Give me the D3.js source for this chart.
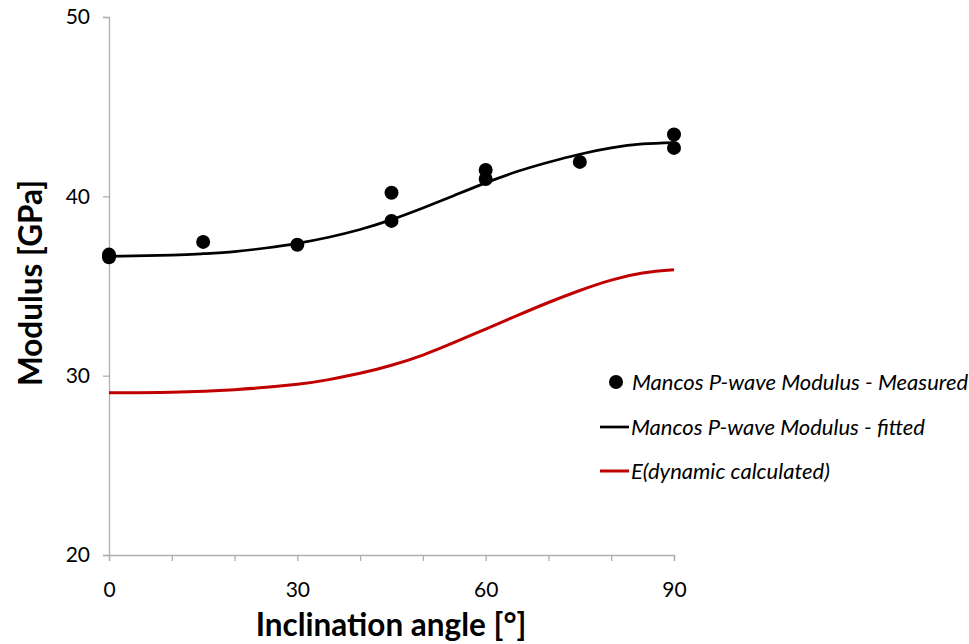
<!DOCTYPE html>
<html>
<head>
<meta charset="utf-8">
<script src="https://cdn.jsdelivr.net/npm/d3@7"></script>
<style>
  html, body { margin: 0; padding: 0; background: #fff; }
  svg { display: block; font-family: Lato, "Open Sans", sans-serif; }
</style>
</head>
<body>
<svg id="chart" width="969" height="644"></svg>
<script>
// Measured P-wave modulus (GPa) against inclination angle (degrees)
const measuredAngle = [0, 0, 15, 30, 45, 45, 60, 60, 75, 90, 90];
const measuredModulus = [36.75, 36.6, 37.46, 37.3, 40.2, 38.63, 41.47, 40.97, 41.92, 43.45, 42.7];

// Fitted P-wave modulus curve
const fittedAngle = [0, 10, 15, 20, 25, 30, 35, 40, 45, 50, 55, 60, 65, 70, 75, 80, 85, 90];
const fittedModulus = [36.65, 36.72, 36.8, 36.92, 37.12, 37.38, 37.72, 38.15, 38.7, 39.35, 40.05, 40.75, 41.38, 41.9, 42.35, 42.7, 42.92, 43.0];

// Calculated dynamic Young's modulus curve
const dynamicAngle = [0, 10, 20, 30, 35, 40, 45, 50, 55, 60, 65, 70, 75, 80, 85, 90];
const dynamicModulus = [29.05, 29.08, 29.22, 29.52, 29.78, 30.13, 30.58, 31.15, 31.85, 32.6, 33.35, 34.08, 34.75, 35.33, 35.72, 35.9];

const xTicks = [0, 10, 20, 30, 40, 50, 60, 70, 80, 90];
const xTickLabels = [0, 30, 60, 90];
const yTicks = [20, 30, 40, 50];

const legendLabels = [
  "Mancos P-wave Modulus - Measured",
  "Mancos P-wave Modulus - fitted",
  "E(dynamic calculated)"
];

const svg = d3.select("#chart");
const axisColor = "#b0b0b0";

const x = d3.scaleLinear().domain([0, 90]).range([109, 674]);
const y = d3.scaleLinear().domain([20, 50]).range([555, 17]);

// Axes
const xAxis = d3.axisBottom(x)
  .tickValues(xTicks)
  .tickSize(6)
  .tickFormat(d => xTickLabels.includes(d) ? d : "");
const gx = svg.append("g").attr("transform", `translate(0,${y(20)})`).call(xAxis);
gx.select(".domain").attr("stroke", axisColor).attr("stroke-width", 1.3);
gx.selectAll(".tick line").attr("stroke", axisColor).attr("stroke-width", 1.3);
gx.selectAll(".tick text")
  .attr("fill", "#000").attr("font-size", 21).attr("dy", 0).attr("y", 42)
  .attr("font-family", "Lato, sans-serif");

const yAxis = d3.axisLeft(y).tickValues(yTicks).tickSize(6).tickPadding(13);
const gy = svg.append("g").attr("transform", `translate(${x(0)},0)`).call(yAxis);
gy.select(".domain").attr("stroke", axisColor).attr("stroke-width", 1.3);
gy.selectAll(".tick line").attr("stroke", axisColor).attr("stroke-width", 1.3);
gy.selectAll(".tick text")
  .attr("fill", "#000").attr("font-size", 21)
  .attr("font-family", "Lato, sans-serif");

// Axis titles
svg.append("text")
  .attr("x", 391).attr("y", 636)
  .attr("text-anchor", "middle")
  .attr("font-size", 31.5).attr("font-weight", "bold")
  .text("Inclination angle [°]");

svg.append("text")
  .attr("transform", "translate(42,283) rotate(-90)")
  .attr("text-anchor", "middle")
  .attr("font-size", 31.5).attr("font-weight", "bold")
  .text("Modulus [GPa]");

// Curves
const line = d3.line()
  .x(d => x(d[0]))
  .y(d => y(d[1]))
  .curve(d3.curveNatural);

svg.append("path")
  .datum(dynamicAngle.map((a, i) => [a, dynamicModulus[i]]))
  .attr("d", line)
  .attr("fill", "none")
  .attr("stroke", "#c00000")
  .attr("stroke-width", 3);

svg.append("path")
  .datum(fittedAngle.map((a, i) => [a, fittedModulus[i]]))
  .attr("d", line)
  .attr("fill", "none")
  .attr("stroke", "#000")
  .attr("stroke-width", 2.7);

// Measured points
svg.append("g")
  .selectAll("circle")
  .data(measuredAngle.map((a, i) => [a, measuredModulus[i]]))
  .join("circle")
  .attr("cx", d => x(d[0]))
  .attr("cy", d => y(d[1]))
  .attr("r", 7)
  .attr("fill", "#000");

// Legend
const legend = svg.append("g").attr("font-style", "italic").attr("font-size", 22);
const legendY = [382, 427, 471];

legend.append("circle").attr("cx", 616).attr("cy", legendY[0]).attr("r", 7).attr("fill", "#000");
legend.append("line")
  .attr("x1", 600).attr("x2", 629).attr("y1", legendY[1]).attr("y2", legendY[1])
  .attr("stroke", "#000").attr("stroke-width", 2.7);
legend.append("line")
  .attr("x1", 600).attr("x2", 629).attr("y1", legendY[2]).attr("y2", legendY[2])
  .attr("stroke", "#c00000").attr("stroke-width", 3);

legend.selectAll("text")
  .data(legendLabels)
  .join("text")
  .attr("x", (d, i) => i === 0 ? 632 : 631)
  .attr("y", (d, i) => legendY[i])
  .attr("dy", "0.35em")
  .text(d => d);
</script>
</body>
</html>
